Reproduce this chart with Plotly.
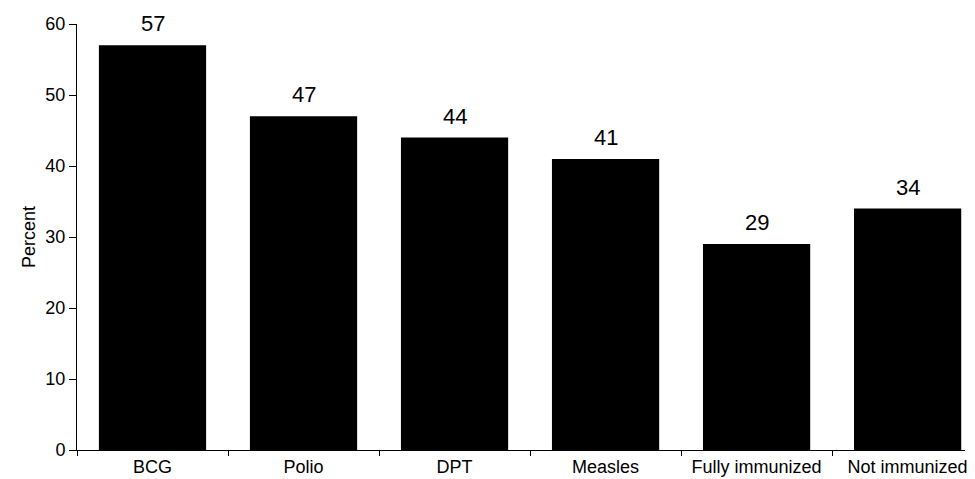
import plotly.graph_objects as go

categories = ["BCG", "Polio", "DPT", "Measles", "Fully immunized", "Not immunized"]
percent = [57, 47, 44, 41, 29, 34]
y_ticks = [0, 10, 20, 30, 40, 50, 60]

FONT = "Liberation Sans, Arial, Helvetica, sans-serif"

fig = go.Figure()
fig.add_trace(go.Bar(
    x=categories,
    y=percent,
    marker=dict(color="black", line=dict(width=0)),
    width=0.71,
    hoverinfo="skip",
))

for c, v in zip(categories, percent):
    fig.add_annotation(
        x=c, y=v, text=str(v), showarrow=False,
        yanchor="bottom", yshift=7,
        font=dict(family=FONT, size=22, color="black"),
    )

fig.update_layout(
    width=975,
    height=479,
    margin=dict(l=77, r=10, t=24, b=29, autoexpand=False),
    paper_bgcolor="white",
    plot_bgcolor="white",
    showlegend=False,
    font=dict(family=FONT, color="black", size=18),
)
fig.update_xaxes(
    range=[-0.5, 5.38],
    automargin=False,
    showline=True, linecolor="black", linewidth=1,
    ticks="outside", tickson="boundaries", ticklen=5, tickcolor="black",
    tickfont=dict(size=18),
    showgrid=False, zeroline=False,
)
fig.update_yaxes(
    range=[0, 60],
    automargin=False,
    tickvals=y_ticks,
    showline=True, linecolor="black", linewidth=1,
    ticks="outside", ticklen=7, tickcolor="black",
    tickfont=dict(size=18),
    showgrid=False, zeroline=False,
    title=dict(text="Percent", font=dict(size=18), standoff=5),
)

fig.write_html(
    "out.html",
    config={"displayModeBar": False},
    post_script="document.body.style.margin='0';document.body.style.overflow='hidden';",
)
